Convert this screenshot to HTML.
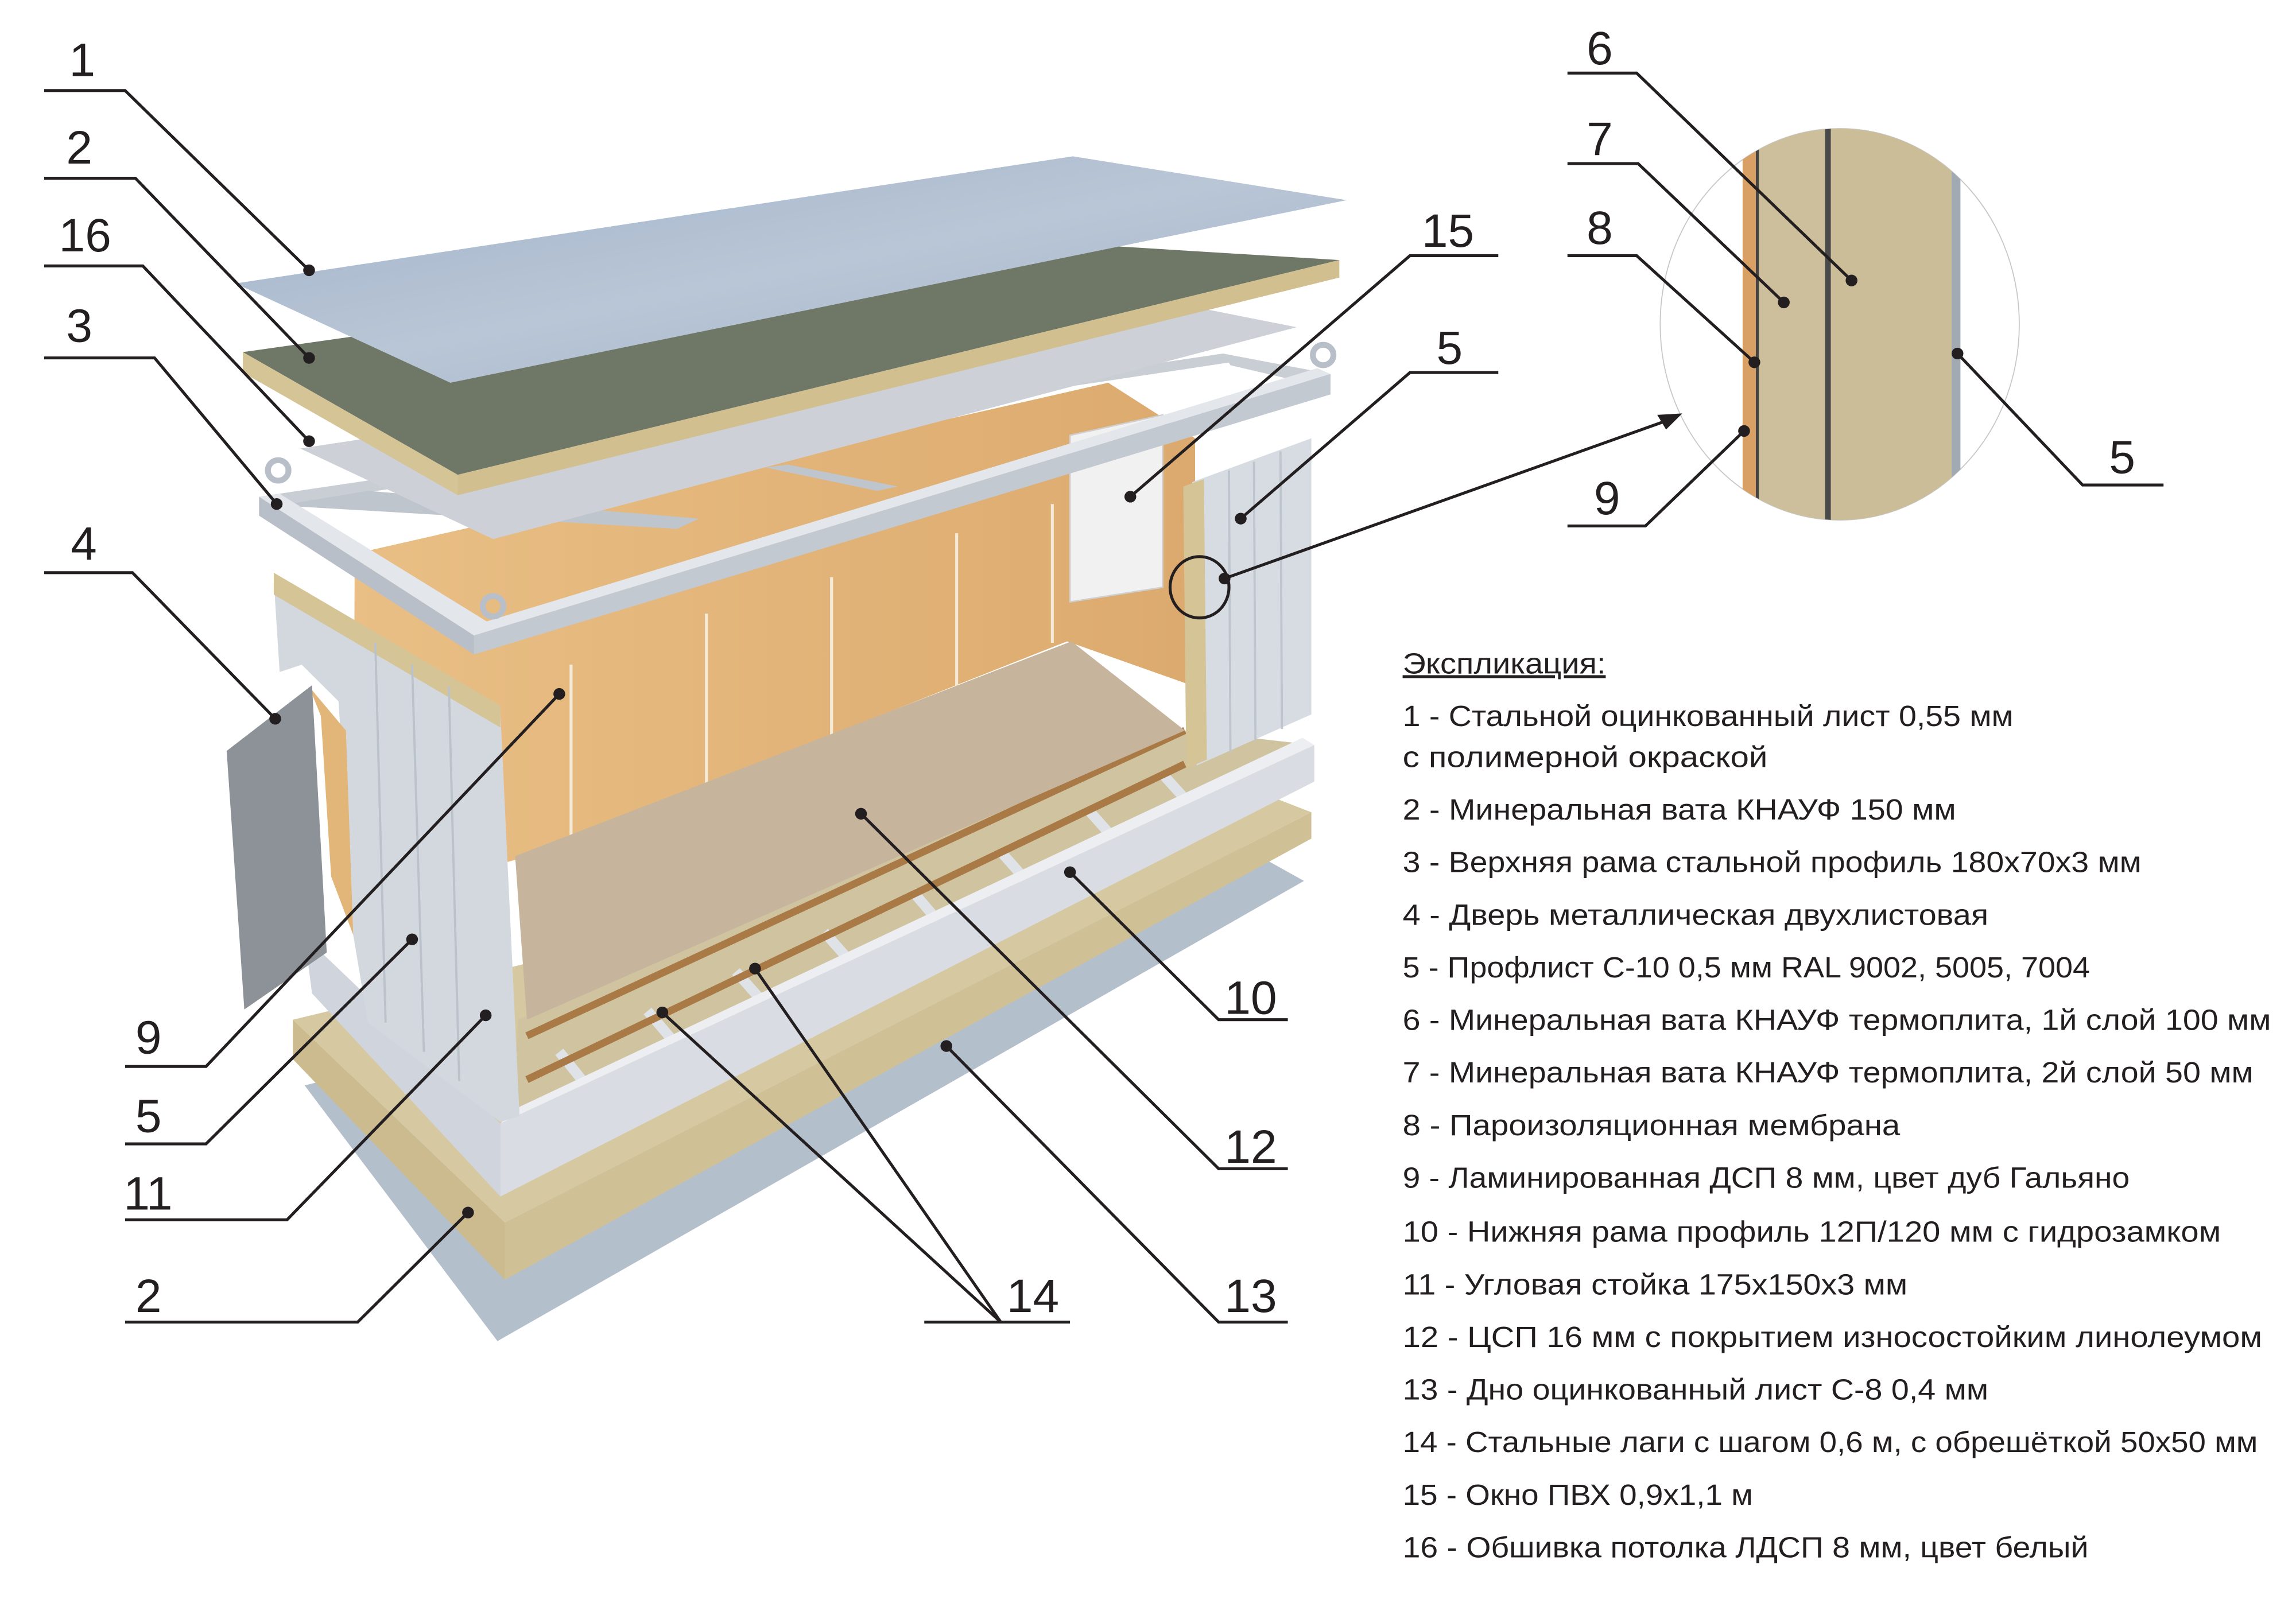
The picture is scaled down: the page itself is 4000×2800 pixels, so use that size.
<!DOCTYPE html>
<html><head><meta charset="utf-8"><style>
html,body{margin:0;padding:0;background:#fff;}
svg{display:block;width:4000px;height:2800px;}
text{font-family:"Liberation Sans",sans-serif;fill:#231f20;}
</style></head><body>
<svg viewBox="0 0 1560 1100" preserveAspectRatio="none" xmlns="http://www.w3.org/2000/svg">
<defs>
<clipPath id="dc"><ellipse cx="1250" cy="222" rx="122" ry="134"/></clipPath>
<linearGradient id="wood" x1="0" y1="0" x2="1" y2="0"><stop offset="0" stop-color="#e9bf85"/><stop offset="1" stop-color="#dcaa6e"/></linearGradient>
<linearGradient id="gal" x1="0" y1="0" x2="1" y2="1"><stop offset="0" stop-color="#9fb1c8"/><stop offset="0.5" stop-color="#b9c6d6"/><stop offset="1" stop-color="#9fb0c6"/></linearGradient>
</defs>
<polygon points="207,743 845,580 886,603 338,918" fill="#b4bfcc"/>
<polygon points="199,698 850,540 891,556 343,837" fill="#d6c9a2"/>
<polygon points="199,698 343,837 343,876 199,725" fill="#cbbb8f"/>
<polygon points="343,837 891,556 891,574 343,876" fill="#d0c096"/>
<polygon points="241,379 753,262 812,300 812,470 725,439 352,588 240,620" fill="url(#wood)"/>
<g stroke="#f4ead8" stroke-width="2">
<line x1="388" y1="455" x2="388" y2="575"/><line x1="480" y1="420" x2="480" y2="545"/><line x1="565" y1="395" x2="565" y2="510"/><line x1="650" y1="365" x2="650" y2="470"/><line x1="715" y1="345" x2="715" y2="440"/>
</g>
<polygon points="727,298 790,284 790,402 727,412" fill="#f2f1f1" stroke="#cfcfcf"/>
<polygon points="352,698 805,500 893,510 348,769" fill="#cfc3a0"/>
<g stroke="#dfe2e7" stroke-width="7">
<line x1="380" y1="720" x2="400" y2="745"/><line x1="440" y1="692" x2="462" y2="718"/><line x1="500" y1="665" x2="522" y2="690"/><line x1="560" y1="638" x2="582" y2="663"/><line x1="620" y1="610" x2="642" y2="636"/><line x1="680" y1="583" x2="702" y2="608"/><line x1="740" y1="555" x2="762" y2="580"/><line x1="790" y1="530" x2="808" y2="550"/>
</g>
<g stroke="#a97a46" stroke-width="5">
<line x1="358" y1="709" x2="805" y2="500"/><line x1="358" y1="739" x2="805" y2="523"/>
</g>
<polygon points="350,586 728,439 805,500 358,698" fill="#c6b59c"/>
<polygon points="207,641 340,769 340,819 212,680" fill="#d0d5dd"/>
<polygon points="340,769 893,510 893,535 340,819" fill="#d9dde3"/>
<polygon points="348,760 885,505 893,510 340,769" fill="#eceef1"/>
<polygon points="810,330 891,300 891,489 813,524" fill="#d7dce3"/>
<polygon points="804,333 818,328 820,520 806,526" fill="#d5c496"/>
<g stroke="#bfc5cd" stroke-width="1.5">
<line x1="835" y1="322" x2="836" y2="515"/><line x1="852" y1="316" x2="853" y2="507"/><line x1="870" y1="309" x2="871" y2="499"/>
</g>
<polygon points="186,397 340,488 353,764 340,768 250,700 240,640 230,480 205,455 190,460" fill="#d3d8df"/>
<polygon points="186,392 340,483 340,498 186,407" fill="#d5c496"/>
<polygon points="210,470 235,500 240,640 225,600 218,490" fill="#e2b578"/>
<g stroke="#bcc2ca" stroke-width="1.5">
<line x1="255" y1="440" x2="262" y2="700"/><line x1="280" y1="455" x2="288" y2="720"/><line x1="305" y1="470" x2="312" y2="740"/>
</g>
<polygon points="154,514 212,469 222,652 166,691" fill="#8d9299"/>
<!-- top frame beams -->
<polygon points="176,340 831,242 836,248 190,346" fill="#c9ced5"/>
<polygon points="831,242 904,256 904,266 836,250" fill="#c9ced5"/>
<polygon points="190,346 250,336 475,355 460,362" fill="#bfc5cd"/>
<polygon points="520,320 535,318 610,333 596,336" fill="#bfc5cd"/>
<polygon points="176,340 190,338 335,428 322,435" fill="#e3e6eb"/>
<polygon points="176,340 322,435 322,448 176,353" fill="#b9bfc8"/>
<polygon points="322,428 895,252 904,256 322,435" fill="#e3e6eb"/>
<polygon points="322,435 904,256 904,270 322,448" fill="#c3c9d1"/>
<g fill="none" stroke="#b9bfc8" stroke-width="4">
<circle cx="189" cy="322" r="7"/><circle cx="335" cy="415" r="7"/><circle cx="899" cy="243" r="7"/>
</g>
<polygon points="204,307 821,212 881,224 335,369" fill="#cdd1d7"/>
<polygon points="165,241 700,165 910,178 311,325" fill="#6f7766"/>
<polygon points="165,241 311,325 311,339 165,255" fill="#d5c496"/>
<polygon points="311,325 910,178 910,190 311,339" fill="#d1bf8f"/>
<polygon points="160,194 729,107 915,137 306,262" fill="url(#gal)"/>
<ellipse cx="1250" cy="222" rx="122" ry="134" fill="#fff" stroke="#c8c8c8" stroke-width="0.7"/>
<g clip-path="url(#dc)">
<rect x="1184" y="80" width="10" height="300" fill="#d9a066"/>
<rect x="1194" y="80" width="46" height="300" fill="#cdbf9c"/>
<rect x="1240" y="80" width="4" height="300" fill="#4a4a4a"/>
<rect x="1244" y="80" width="82" height="300" fill="#cbbd98"/>
<rect x="1326" y="80" width="6" height="300" fill="#a1a9b2"/>
<rect x="1193" y="80" width="2" height="300" fill="#444"/>
</g>
<g stroke="#231f20" stroke-width="2" fill="none">
<polyline points="30,62 85,62 210,185"/>
<polyline points="30,122 92,122 210,245"/>
<polyline points="30,182 97,182 210,302"/>
<polyline points="30,245 105,245 188,345"/>
<polyline points="30,392 90,392 187,492"/>
<polyline points="85,730 140,730 380,475"/>
<polyline points="85,783 140,783 280,643"/>
<polyline points="85,835 195,835 330,695"/>
<polyline points="85,905 243,905 318,830"/>
<polyline points="628,905 727,905"/>
<polyline points="680,905 513,663"/>
<polyline points="680,905 450,693"/>
<polyline points="875,905 828,905 643,716"/>
<polyline points="875,800 828,800 585,557"/>
<polyline points="875,698 828,698 727,597"/>
<polyline points="1018,175 958,175 768,340"/>
<polyline points="1018,255 958,255 843,355"/>
<ellipse cx="815" cy="402" rx="20" ry="21"/>
<line x1="832" y1="396" x2="1135" y2="287"/>
<polyline points="1065,50 1112,50 1258,192"/>
<polyline points="1065,112 1113,112 1212,207"/>
<polyline points="1065,175 1112,175 1192,248"/>
<polyline points="1065,360 1118,360 1185,295"/>
<polyline points="1470,332 1415,332 1330,242"/>
</g>
<polygon points="1143,283 1126,284 1132,294" fill="#231f20"/>
<g fill="#231f20">
<circle cx="210" cy="185" r="4"/><circle cx="210" cy="245" r="4"/><circle cx="210" cy="302" r="4"/><circle cx="188" cy="345" r="4"/><circle cx="187" cy="492" r="4"/><circle cx="380" cy="475" r="4"/><circle cx="280" cy="643" r="4"/><circle cx="330" cy="695" r="4"/><circle cx="318" cy="830" r="4"/><circle cx="513" cy="663" r="4"/><circle cx="450" cy="693" r="4"/><circle cx="643" cy="716" r="4"/><circle cx="585" cy="557" r="4"/><circle cx="727" cy="597" r="4"/><circle cx="768" cy="340" r="4"/><circle cx="843" cy="355" r="4"/><circle cx="832" cy="396" r="4"/><circle cx="1258" cy="192" r="4"/><circle cx="1212" cy="207" r="4"/><circle cx="1192" cy="248" r="4"/><circle cx="1185" cy="295" r="4"/><circle cx="1330" cy="242" r="4"/>
</g>
<g font-size="32">
<text x="47" y="52">1</text><text x="45" y="112">2</text><text x="40" y="172">16</text><text x="45" y="234">3</text><text x="48" y="383">4</text>
<text x="92" y="721">9</text><text x="92" y="775">5</text><text x="84" y="828">11</text><text x="92" y="898">2</text>
<text x="684" y="898">14</text><text x="832" y="898">13</text><text x="832" y="796">12</text><text x="832" y="694">10</text>
<text x="966" y="169">15</text><text x="976" y="249">5</text>
<text x="1078" y="44">6</text><text x="1078" y="106">7</text><text x="1078" y="167">8</text><text x="1083" y="352">9</text><text x="1433" y="324">5</text>
</g>
<g font-size="20">
<text x="953" y="461" text-decoration="underline" textLength="138" lengthAdjust="spacingAndGlyphs">Экспликация:</text>
<text x="953" y="497" textLength="415" lengthAdjust="spacingAndGlyphs">1 - Стальной оцинкованный лист 0,55 мм</text>
<text x="953" y="525" textLength="248" lengthAdjust="spacingAndGlyphs">с полимерной окраской</text>
<text x="953" y="561" textLength="376" lengthAdjust="spacingAndGlyphs">2 - Минеральная вата КНАУФ 150 мм</text>
<text x="953" y="597" textLength="502" lengthAdjust="spacingAndGlyphs">3 - Верхняя рама стальной профиль 180х70х3 мм</text>
<text x="953" y="633" textLength="398" lengthAdjust="spacingAndGlyphs">4 - Дверь металлическая двухлистовая</text>
<text x="953" y="669" textLength="467" lengthAdjust="spacingAndGlyphs">5 - Профлист С-10 0,5 мм RAL 9002, 5005, 7004</text>
<text x="953" y="705" textLength="590" lengthAdjust="spacingAndGlyphs">6 - Минеральная вата КНАУФ термоплита, 1й слой 100 мм</text>
<text x="953" y="741" textLength="578" lengthAdjust="spacingAndGlyphs">7 - Минеральная вата КНАУФ термоплита, 2й слой 50 мм</text>
<text x="953" y="777" textLength="338" lengthAdjust="spacingAndGlyphs">8 - Пароизоляционная мембрана</text>
<text x="953" y="813" textLength="494" lengthAdjust="spacingAndGlyphs">9 - Ламинированная ДСП 8 мм, цвет дуб Гальяно</text>
<text x="953" y="850" textLength="556" lengthAdjust="spacingAndGlyphs">10 - Нижняя рама профиль 12П/120 мм с гидрозамком</text>
<text x="953" y="886" textLength="343" lengthAdjust="spacingAndGlyphs">11 - Угловая стойка 175х150х3 мм</text>
<text x="953" y="922" textLength="584" lengthAdjust="spacingAndGlyphs">12 - ЦСП 16 мм с покрытием износостойким линолеумом</text>
<text x="953" y="958" textLength="398" lengthAdjust="spacingAndGlyphs">13 - Дно оцинкованный лист С-8 0,4 мм</text>
<text x="953" y="994" textLength="581" lengthAdjust="spacingAndGlyphs">14 - Стальные лаги с шагом 0,6 м, с обрешёткой 50х50 мм</text>
<text x="953" y="1030" textLength="238" lengthAdjust="spacingAndGlyphs">15 - Окно ПВХ 0,9х1,1 м</text>
<text x="953" y="1066" textLength="466" lengthAdjust="spacingAndGlyphs">16 - Обшивка потолка ЛДСП 8 мм, цвет белый</text>
</g>
</svg>
</body></html>
